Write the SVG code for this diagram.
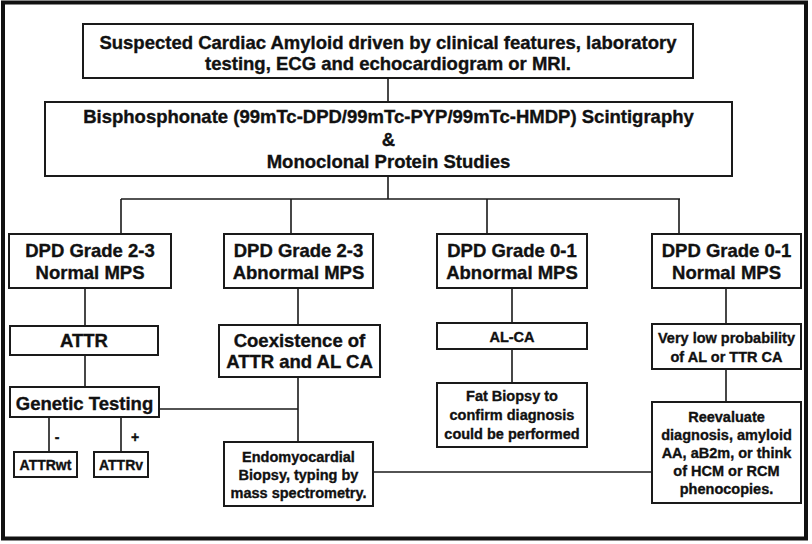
<svg xmlns="http://www.w3.org/2000/svg" width="812" height="544" viewBox="0 0 812 544">
<style>
.box{fill:#fff;stroke:#1a1a1a;stroke-width:2}
.t{font-family:"Liberation Sans",Arial,sans-serif;font-weight:bold;fill:#111;stroke:#111;stroke-width:0.35;text-anchor:middle}
.L{font-size:18.5px}
.S{font-size:14.5px}
.X{font-size:14px}
.c{fill:none;stroke:#1a1a1a;stroke-width:1.6}
</style>
<rect x="3" y="2.5" width="803" height="536" fill="#fff" stroke="#111" stroke-width="4"/>
<g id="connectors" class="c">
<path d="M388 78V102"/>
<path d="M388 176V199"/>
<path d="M121 199H680"/>
<path d="M121 199V234M291 199V234M487 199V234M679 199V234"/>
<path d="M85 288V326M85 355V387"/>
<path d="M49 417V452M121 417V452"/>
<path d="M159 409H298"/>
<path d="M298 288V325M298 377V442"/>
<path d="M373 472H652"/>
<path d="M512 288V323M512 349V383"/>
<path d="M726 288V324M726 369V402"/>
</g>
<g id="n1"><rect class="box" x="83" y="24" width="610" height="54"/>
<text class="t L" x="388" y="49">Suspected Cardiac Amyloid driven by clinical features, laboratory</text>
<text class="t L" x="388" y="70">testing, ECG and echocardiogram or MRI.</text></g>
<g id="n2"><rect class="box" x="45" y="102" width="687" height="74"/>
<text class="t L" x="388.5" y="123">Bisphosphonate (99mTc-DPD/99mTc-PYP/99mTc-HMDP) Scintigraphy</text>
<text class="t L" x="388.5" y="146">&amp;</text>
<text class="t L" x="388.5" y="168">Monoclonal Protein Studies</text></g>
<g id="nA"><rect class="box" x="9" y="234" width="162" height="54"/>
<text class="t L" x="90" y="257">DPD Grade 2-3</text>
<text class="t L" x="90" y="279">Normal MPS</text></g>
<g id="nB"><rect class="box" x="224" y="234" width="149" height="54"/>
<text class="t L" x="298.5" y="257">DPD Grade 2-3</text>
<text class="t L" x="298.5" y="279">Abnormal MPS</text></g>
<g id="nC"><rect class="box" x="437" y="234" width="150" height="54"/>
<text class="t L" x="512" y="257">DPD Grade 0-1</text>
<text class="t L" x="512" y="279">Abnormal MPS</text></g>
<g id="nD"><rect class="box" x="652" y="234" width="149" height="54"/>
<text class="t L" x="726.5" y="257">DPD Grade 0-1</text>
<text class="t L" x="726.5" y="279">Normal MPS</text></g>
<g id="attr"><rect class="box" x="10" y="326" width="148" height="29"/>
<text class="t L" x="84" y="347">ATTR</text></g>
<g id="genetic"><rect class="box" x="10" y="387" width="149" height="30"/>
<text class="t L" x="84.5" y="410">Genetic Testing</text></g>
<g id="signs"><text class="t X" x="57" y="442">-</text>
<text class="t X" x="135" y="442">+</text></g>
<g id="attrwt"><rect class="box" x="14" y="452" width="63" height="25"/>
<text class="t X" x="45.5" y="470">ATTRwt</text></g>
<g id="attrv"><rect class="box" x="94" y="452" width="54" height="25"/>
<text class="t X" x="121" y="470">ATTRv</text></g>
<g id="coex"><rect class="box" x="219" y="325" width="161" height="52"/>
<text class="t L" x="299.5" y="347">Coexistence of</text>
<text class="t L" x="299.5" y="368">ATTR and AL CA</text></g>
<g id="emb"><rect class="box" x="224" y="442" width="149" height="64"/>
<text class="t S" x="298.5" y="462">Endomyocardial</text>
<text class="t S" x="298.5" y="480">Biopsy, typing by</text>
<text class="t S" x="298.5" y="498">mass spectrometry.</text></g>
<g id="alca"><rect class="box" x="437" y="323" width="150" height="26"/>
<text class="t S" x="512" y="342">AL-CA</text></g>
<g id="fat"><rect class="box" x="437" y="383" width="150" height="64"/>
<text class="t S" x="512" y="401">Fat Biopsy to</text>
<text class="t S" x="512" y="420">confirm diagnosis</text>
<text class="t S" x="512" y="439">could be performed</text></g>
<g id="verylow"><rect class="box" x="652" y="324" width="149" height="45"/>
<text class="t S" x="726.5" y="343">Very low probability</text>
<text class="t S" x="726.5" y="362">of AL or TTR CA</text></g>
<g id="reeval"><rect class="box" x="652" y="402" width="149" height="101"/>
<text class="t S" x="726.5" y="422">Reevaluate</text>
<text class="t S" x="726.5" y="440">diagnosis, amyloid</text>
<text class="t S" x="726.5" y="458">AA, aB2m, or think</text>
<text class="t S" x="726.5" y="476">of HCM or RCM</text>
<text class="t S" x="726.5" y="494">phenocopies.</text></g>
</svg>
